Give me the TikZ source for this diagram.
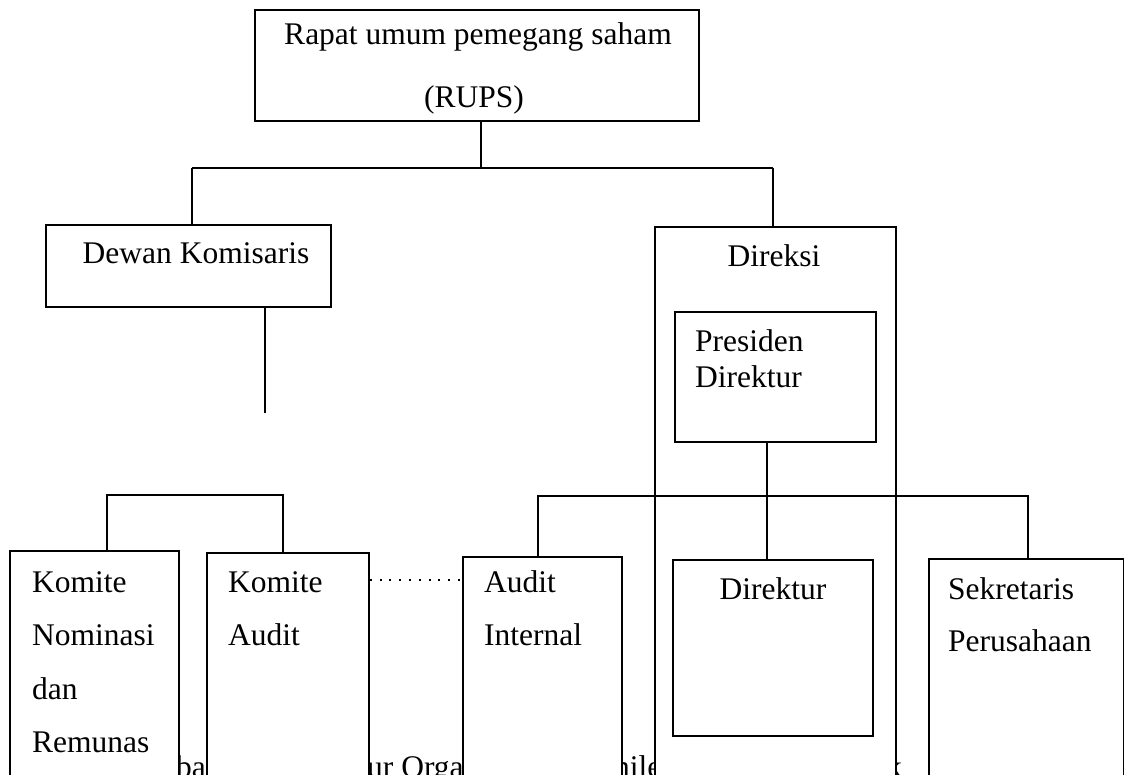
\documentclass[tikz,border=0pt]{standalone}
\usepackage{fontspec}
\setmainfont{Liberation Serif}
\begin{document}
\begin{tikzpicture}[x=1pt,y=-1pt,
  box/.style={draw, line width=1.7pt, fill=white, inner sep=0pt, anchor=north west},
  txt/.style={inner sep=0pt, font=\fontsize{31.5}{36}\selectfont},
  conn/.style={line width=1.7pt},
  dotline/.style={line width=2pt, dash pattern=on 2pt off 7.8pt}]
\useasboundingbox (0,0) rectangle (1124,775);
\clip (0,0) rectangle (1124,775);
% caption fragments (partly hidden behind the boxes)
\node[txt, anchor=base west] (cap1) at (176,777) {ba};
\node[txt, anchor=base west] (cap2) at (367,777) {ur Orga};
\node[txt, anchor=base west] (cap3) at (614,777) {nile};
\node[txt, anchor=base west] (cap4) at (886,777) {k};
% boxes
\node[box, minimum width=444pt, minimum height=111pt] (rups) at (254,9) {};
\node[box, minimum width=285pt, minimum height=82pt] (dewan) at (45,224) {};
\node[box, minimum width=241pt, minimum height=600pt] (direksi) at (654,226) {};
\node[box, minimum width=201pt, minimum height=130pt] (presiden) at (674,311) {};
\node[box, minimum width=200pt, minimum height=176pt] (direktur) at (672,559) {};
\node[box, minimum width=195pt, minimum height=300pt] (sek) at (928,558) {};
\node[box, minimum width=169pt, minimum height=300pt] (kn) at (9,550) {};
\node[box, minimum width=162pt, minimum height=300pt] (ka) at (206,552) {};
\node[box, minimum width=159pt, minimum height=300pt] (ai) at (462,556) {};
% texts
\node[txt, anchor=base] (trups1) at (478,45) {Rapat umum pemegang saham};
\node[txt, anchor=base] (trups2) at (474,108) {(RUPS)};
\node[txt, anchor=base] (tdewan) at (196,264) {Dewan Komisaris};
\node[txt, anchor=base] (tdireksi) at (774,267) {Direksi};
\node[txt, anchor=base west] (tpres1) at (695,352) {Presiden};
\node[txt, anchor=base west] (tpres2) at (695,388) {Direktur};
\node[txt, anchor=base] (tdir) at (773,599) {Direktur};
\node[txt, anchor=base west] (tsek1) at (948,599) {Sekretaris};
\node[txt, anchor=base west] (tsek2) at (948,651) {Perusahaan};
\node[txt, anchor=base west] (tkn1) at (32,592) {Komite};
\node[txt, anchor=base west] (tkn2) at (32,645) {Nominasi};
\node[txt, anchor=base west] (tkn3) at (32,699) {dan};
\node[txt, anchor=base west] (tkn4) at (32,752) {Remunas};
\node[txt, anchor=base west] (tka1) at (228,592) {Komite};
\node[txt, anchor=base west] (tka2) at (228,645) {Audit};
\node[txt, anchor=base west] (tai1) at (484,592) {Audit};
\node[txt, anchor=base west] (tai2) at (484,645) {Internal};
% connectors
\coordinate (j0) at (481,168);
\coordinate (jl) at (192,168);
\coordinate (jr) at (773,168);
\draw[conn] (rups.south -| j0) -- (j0);
\draw[conn] (jl) -- (jr);
\draw[conn] (jl) -- (jl |- dewan.north);
\draw[conn] (jr) -- (jr |- direksi.north);
\coordinate (dk) at (265,413);
\draw[conn] (dewan.south -| dk) -- (dk);
\coordinate (la) at (107,495);
\coordinate (lb) at (283,495);
\draw[conn] (kn.north -| la) -- (la) -- (lb) -- (lb |- ka.north);
\coordinate (ra) at (538,496);
\coordinate (rb) at (1028,496);
\draw[conn] (ai.north -| ra) -- (ra) -- (rb) -- (rb |- sek.north);
\coordinate (pm) at (767,500);
\draw[conn] (presiden.south -| pm) -- (direktur.north -| pm);
\coordinate (dl) at (0,580);
\draw[dotline] (ka.north east |- dl) -- (ai.north west |- dl);
\end{tikzpicture}
\end{document}
